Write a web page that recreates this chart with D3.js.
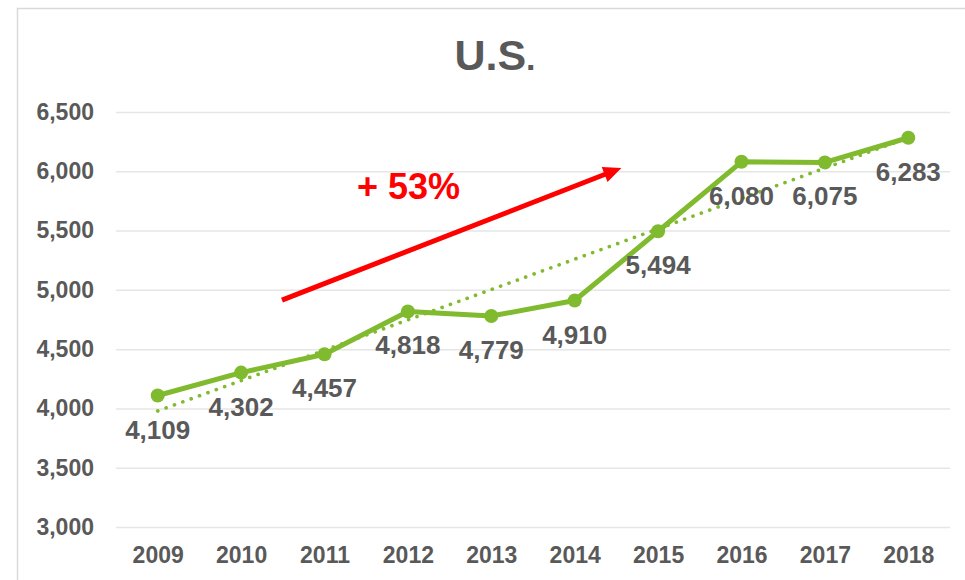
<!DOCTYPE html>
<html>
<head>
<meta charset="utf-8">
<script src="https://cdn.jsdelivr.net/npm/d3@7"></script>
<style>
  html, body { margin: 0; padding: 0; background: #fff; }
  svg { display: block; font-family: "Liberation Sans", Arial, sans-serif; }
</style>
</head>
<body>
<div id="chart"></div>
<script>
// Chart data
const years = ['2009', '2010', '2011', '2012', '2013', '2014', '2015', '2016', '2017', '2018'];
const values = [4109, 4302, 4457, 4818, 4779, 4910, 5494, 6080, 6075, 6283];
const yTicks = [3000, 3500, 4000, 4500, 5000, 5500, 6000, 6500];

// Growth annotation (in category-index / value units)
const growthArrow = { from: [1.49, 4914], to: [5.56, 6028] };
const growthLabel = { text: '+ 53%', at: [2.39, 5770] };

const width = 965, height = 580;
const plot = { left: 116, right: 950, top: 112, bottom: 527 };
const textColor = '#595959';
const green = '#80BA2E';

const svg = d3.select('#chart').append('svg')
  .attr('width', width)
  .attr('height', height);

// Outer chart frame
svg.append('path')
  .attr('d', `M17.5,${height} V8.5 H${width}`)
  .attr('fill', 'none')
  .attr('stroke', '#d9d9d9')
  .attr('stroke-width', 1.5);

const x = d3.scalePoint()
  .domain(years)
  .range([plot.left, plot.right])
  .padding(0.5);

const y = d3.scaleLinear()
  .domain([3000, 6500])
  .range([plot.bottom, plot.top]);

// x position from fractional category index
const xi = i => x(years[0]) + i * x.step();

// Gridlines + y labels
const yAxis = d3.axisLeft(y)
  .tickValues(yTicks)
  .tickSize(-(plot.right - plot.left))
  .tickPadding(22)
  .tickFormat(d3.format(','));

svg.append('g')
  .attr('transform', `translate(${plot.left},0)`)
  .call(yAxis)
  .call(g => g.select('.domain').remove())
  .call(g => g.selectAll('.tick line').attr('stroke', '#e6e6e6').attr('stroke-width', 1.5))
  .call(g => g.selectAll('.tick text')
    .attr('fill', textColor)
    .style('font-size', '23px')
    .style('font-weight', 'bold'));

// x labels
const xAxis = d3.axisBottom(x).tickSize(0).tickPadding(0);
svg.append('g')
  .attr('transform', `translate(0,${plot.bottom})`)
  .call(xAxis)
  .call(g => g.select('.domain').remove())
  .call(g => g.selectAll('.tick text')
    .attr('fill', textColor)
    .attr('dy', null)
    .attr('y', 36)
    .style('font-size', '23px')
    .style('font-weight', 'bold'));

// Title
const title = svg.append('text')
  .attr('x', 495)
  .attr('y', 70)
  .attr('text-anchor', 'middle')
  .attr('fill', textColor)
  .style('font-size', '43px')
  .style('font-weight', 'bold');
title.append('tspan').text('U.S');
title.append('tspan').style('font-size', '34px').text('.');

// Linear trendline (least squares)
const n = values.length;
const mx = d3.mean(values, (d, i) => i);
const my = d3.mean(values);
const slope = d3.sum(values, (d, i) => (i - mx) * (d - my)) / d3.sum(values, (d, i) => (i - mx) ** 2);
const intercept = my - slope * mx;

svg.append('line')
  .attr('x1', xi(0))
  .attr('y1', y(intercept))
  .attr('x2', xi(n - 1))
  .attr('y2', y(intercept + slope * (n - 1)))
  .attr('stroke', green)
  .attr('stroke-width', 3.6)
  .attr('stroke-linecap', 'round')
  .attr('stroke-dasharray', '0.1 8.8');

// Main series line
const line = d3.line()
  .x((d, i) => x(years[i]))
  .y(d => y(d));

svg.append('path')
  .datum(values)
  .attr('d', line)
  .attr('fill', 'none')
  .attr('stroke', green)
  .attr('stroke-width', 5)
  .attr('stroke-linejoin', 'round');

svg.selectAll('.dot')
  .data(values)
  .enter()
  .append('circle')
  .attr('class', 'dot')
  .attr('cx', (d, i) => x(years[i]))
  .attr('cy', d => y(d))
  .attr('r', 7)
  .attr('fill', green);

// Data labels
svg.selectAll('.value-label')
  .data(values)
  .enter()
  .append('text')
  .attr('class', 'value-label')
  .attr('x', (d, i) => x(years[i]))
  .attr('y', d => y(d) + 43)
  .attr('text-anchor', 'middle')
  .attr('fill', textColor)
  .style('font-size', '26px')
  .style('font-weight', 'bold')
  .text(d => d3.format(',')(d));

// Growth arrow
const ax1 = xi(growthArrow.from[0]), ay1 = y(growthArrow.from[1]);
const ax2 = xi(growthArrow.to[0]), ay2 = y(growthArrow.to[1]);
const ang = Math.atan2(ay2 - ay1, ax2 - ax1);
const headLen = 18, headHalf = 8;
const bx = ax2 - headLen * Math.cos(ang), by = ay2 - headLen * Math.sin(ang);

svg.append('line')
  .attr('x1', ax1).attr('y1', ay1)
  .attr('x2', bx + 2 * Math.cos(ang)).attr('y2', by + 2 * Math.sin(ang))
  .attr('stroke', '#FF0000')
  .attr('stroke-width', 5);

svg.append('path')
  .attr('d', `M${ax2},${ay2} L${bx - headHalf * Math.sin(ang)},${by + headHalf * Math.cos(ang)} L${bx + headHalf * Math.sin(ang)},${by - headHalf * Math.cos(ang)} Z`)
  .attr('fill', '#FF0000');

svg.append('text')
  .attr('x', xi(growthLabel.at[0]))
  .attr('y', y(growthLabel.at[1]))
  .attr('fill', '#FF0000')
  .style('font-size', '36px')
  .style('font-weight', 'bold')
  .text(growthLabel.text);
</script>
</body>
</html>
